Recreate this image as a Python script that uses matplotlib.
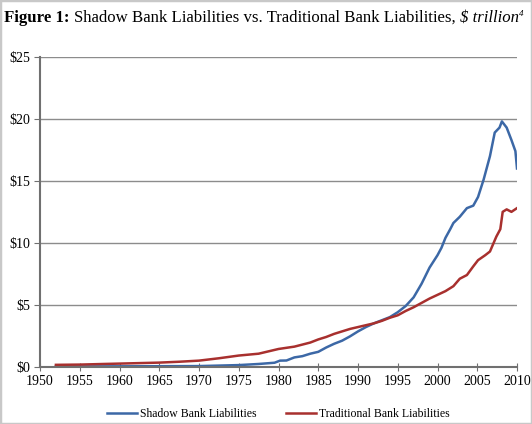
import numpy as np
import matplotlib.pyplot as plt
from matplotlib.patches import Rectangle
from matplotlib.ticker import MultipleLocator, FuncFormatter

plt.rcParams['font.family'] = ['Liberation Serif', 'DejaVu Serif']

# quarterly-ish readings, $ trillion
shadow_years = [1952, 1955, 1960, 1965, 1970, 1975, 1977.5, 1979.5, 1980.2, 1981, 1982, 1983,
                1984, 1985, 1986, 1987, 1988, 1989, 1990, 1991, 1992, 1993, 1994, 1995, 1996,
                1997, 1998, 1999, 2000, 2000.5, 2001, 2001.6, 2002, 2002.8, 2003.7, 2004.5,
                2005.1, 2005.8, 2006.6, 2007.2, 2007.8, 2008.1, 2008.7, 2009.3, 2009.8, 2010]
shadow_vals = [0.02, 0.02, 0.03, 0.04, 0.05, 0.13, 0.22, 0.32, 0.49, 0.5, 0.75, 0.85,
               1.05, 1.2, 1.55, 1.85, 2.1, 2.45, 2.85, 3.2, 3.5, 3.75, 4.0, 4.4, 4.9,
               5.6, 6.7, 8.0, 9.0, 9.6, 10.4, 11.1, 11.6, 12.1, 12.8, 13.0,
               13.7, 15.1, 17.0, 18.9, 19.3, 19.8, 19.3, 18.3, 17.4, 16.0]

trad_years = [1952, 1955, 1958, 1960, 1965, 1967.5, 1970, 1972.5, 1975, 1977.5, 1980, 1982,
              1984, 1985, 1986, 1987, 1988, 1989, 1990, 1991, 1992, 1993, 1994, 1995, 1996,
              1997, 1998, 1999, 2000, 2001, 2002, 2002.8, 2003.7, 2004.5, 2005.1, 2006,
              2006.6, 2007.4, 2007.9, 2008.2, 2008.7, 2009.3, 2010]
trad_vals = [0.15, 0.17, 0.22, 0.25, 0.33, 0.4, 0.49, 0.68, 0.9, 1.05, 1.43, 1.62,
             1.95, 2.2, 2.4, 2.65, 2.85, 3.05, 3.2, 3.35, 3.5, 3.7, 3.95, 4.15, 4.5,
             4.8, 5.15, 5.5, 5.8, 6.1, 6.5, 7.1, 7.4, 8.1, 8.6, 9.0,
             9.3, 10.5, 11.1, 12.5, 12.7, 12.5, 12.8]

blue = '#3c68a6'
red = '#a8302e'
grid_c = '#8c8c8c'
axis_c = '#707070'

fig = plt.figure(figsize=(5.32, 4.24), dpi=100)
fig.patches.append(Rectangle((0, 0), 1, 1, transform=fig.transFigure, fill=False,
                             edgecolor='#c8c8c8', linewidth=2.5))
ax = fig.add_axes([40/532, (424-366.7)/424, (517-40)/532, (366.7-57)/424])

ax.plot(shadow_years, shadow_vals, color=blue, lw=1.8, label='Shadow Bank Liabilities')
ax.plot(trad_years, trad_vals, color=red, lw=1.8, label='Traditional Bank Liabilities')

ax.set_xlim(1950, 2010)
ax.set_ylim(0, 25)
ax.xaxis.set_major_locator(MultipleLocator(5))
ax.yaxis.set_major_locator(MultipleLocator(5))
ax.yaxis.set_major_formatter(FuncFormatter(lambda v, p: f'${v:.0f}'))
ax.grid(axis='y', color=grid_c, lw=1)
ax.set_axisbelow(True)
for s in ['top', 'right']:
    ax.spines[s].set_visible(False)
for s in ['left', 'bottom']:
    ax.spines[s].set_color(axis_c)
    ax.spines[s].set_linewidth(1.5)
ax.tick_params(axis='x', direction='inout', length=6, color=axis_c, labelsize=10, pad=3)
ax.tick_params(axis='y', direction='out', length=4, color=axis_c, labelsize=10, pad=3)

ax.legend(loc='upper center', bbox_to_anchor=(0.5, -0.1), ncol=2, frameon=False,
          fontsize=8.5, handlelength=2.5, handletextpad=0.3, columnspacing=2.5)

# title built piece by piece so the styles can mix
pieces = [('Figure 1: ', 'bold', 'normal'),
          ('Shadow Bank Liabilities vs. Traditional Bank Liabilities, ', 'normal', 'normal'),
          ('$ trillion', 'normal', 'italic')]
fig.canvas.draw()
r = fig.canvas.get_renderer()
x = 4 / 532
for txt, wt, st in pieces:
    t = fig.text(x, 1 - 18/424, txt, fontsize=12.1, fontweight=wt, fontstyle=st, va='center')
    bb = t.get_window_extent(renderer=r)
    x = (bb.x1) / fig.bbox.width
fig.text(x, 1 - 14/424, '4', fontsize=6.5, fontstyle='italic', va='center')

fig.savefig('out.png', dpi=100)
